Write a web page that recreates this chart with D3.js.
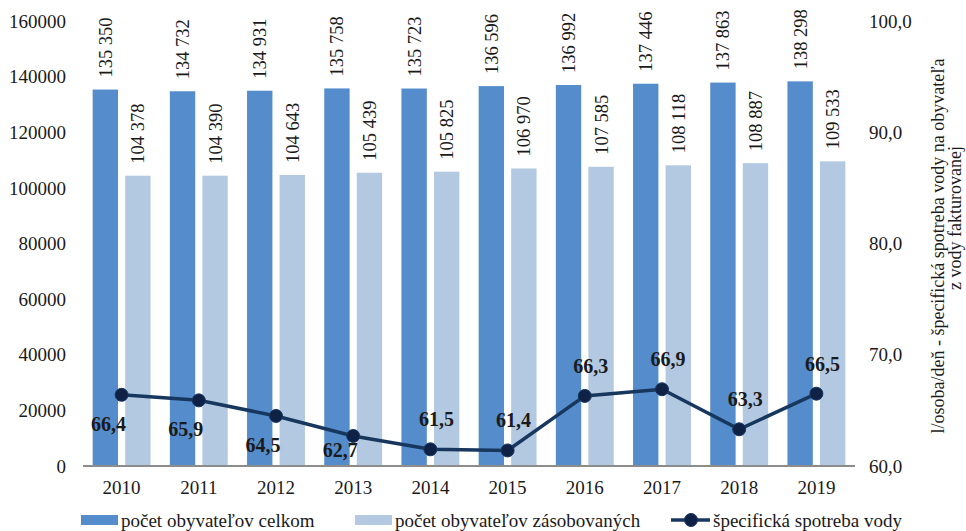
<!DOCTYPE html>
<html>
<head>
<meta charset="utf-8">
<script src="https://cdn.jsdelivr.net/npm/d3@7"></script>
<style>
  body { margin: 0; background: #fff; }
  text { font-family: "Liberation Serif", "Times New Roman", serif; fill: #1a1a1a; }
</style>
</head>
<body>
<script>
var years = ["2010", "2011", "2012", "2013", "2014", "2015", "2016", "2017", "2018", "2019"];
var celkom = [135350, 134732, 134931, 135758, 135723, 136596, 136992, 137446, 137863, 138298];
var zasobovanych = [104378, 104390, 104643, 105439, 105825, 106970, 107585, 108118, 108887, 109533];
var spotreba = [66.4, 65.9, 64.5, 62.7, 61.5, 61.4, 66.3, 66.9, 63.3, 66.5];
var leftTicks = [0, 20000, 40000, 60000, 80000, 100000, 120000, 140000, 160000];
var rightTicks = [60, 70, 80, 90, 100];
var seriesNames = ["počet obyvateľov celkom", "počet obyvateľov zásobovaných", "špecifická spotreba vody"];

var w = 966, h = 531;
var colDark = "#558ccb", colLight = "#b3c9e2", colLine = "#17375e", colDot = "#0f2144";
var fs = "19px";

var svg = d3.select("body").append("svg").attr("width", w).attr("height", h);

var x = d3.scaleBand().domain(years).range([83, 855]).paddingInner(0.25).paddingOuter(0.125);
var xs = d3.scaleBand().domain([0, 1]).range([0, x.bandwidth()]).paddingInner(0.22);
var yL = d3.scaleLinear().domain([0, 160000]).range([466, 21]);
var yR = d3.scaleLinear().domain([60, 100]).range([466, 21]);

var fmt = function(v) { return d3.format(",")(v).replace(/,/g, " "); };

// left axis labels
svg.append("g").selectAll("text").data(leftTicks).enter().append("text")
  .attr("x", 66).attr("y", function(d) { return yL(d); }).attr("dy", "0.35em")
  .attr("text-anchor", "end").style("font-size", fs)
  .text(function(d) { return d; });

// right axis labels
svg.append("g").selectAll("text").data(rightTicks).enter().append("text")
  .attr("x", 869).attr("y", function(d) { return yR(d); }).attr("dy", "0.35em")
  .style("font-size", fs)
  .text(function(d) { return d.toFixed(1).replace(".", ","); });

// bars
var series = [celkom, zasobovanych];
var colors = [colDark, colLight];
series.forEach(function(arr, s) {
  var g = svg.append("g");
  g.selectAll("rect").data(arr).enter().append("rect")
    .attr("x", function(d, i) { return x(years[i]) + xs(s); })
    .attr("width", xs.bandwidth())
    .attr("y", function(d) { return yL(d); })
    .attr("height", function(d) { return yL(0) - yL(d); })
    .style("fill", colors[s]);
  g.selectAll("text").data(arr).enter().append("text")
    .attr("transform", function(d, i) {
      var cx = x(years[i]) + xs(s) + xs.bandwidth() / 2;
      return "translate(" + cx + "," + (yL(d) - 12) + ") rotate(-90)";
    })
    .attr("dy", "0.35em").style("font-size", "18.5px")
    .text(function(d) { return fmt(d); });
});

// baseline
svg.append("line").attr("x1", 83).attr("x2", 855).attr("y1", 466).attr("y2", 466)
  .style("stroke", "#8c8c8c").style("stroke-width", 2);

// x labels
svg.append("g").selectAll("text").data(years).enter().append("text")
  .attr("x", function(d) { return x(d) + x.bandwidth() / 2; })
  .attr("y", 494).attr("text-anchor", "middle").style("font-size", fs)
  .text(function(d) { return d; });

// line
var cxOf = function(i) { return x(years[i]) + x.bandwidth() / 2; };
var line = d3.line().x(function(d, i) { return cxOf(i); }).y(function(d) { return yR(d); });
svg.append("path").datum(spotreba).attr("d", line)
  .style("fill", "none").style("stroke", colLine).style("stroke-width", 3.5);
svg.append("g").selectAll("circle").data(spotreba).enter().append("circle")
  .attr("cx", function(d, i) { return cxOf(i); })
  .attr("cy", function(d) { return yR(d); })
  .attr("r", 6.5).style("fill", colDot).style("stroke", colLine).style("stroke-width", 1);

// line labels: first four below the point, rest above
svg.append("g").selectAll("text").data(spotreba).enter().append("text")
  .attr("x", function(d, i) { return cxOf(i) + (i < 4 ? -13 : 6); })
  .attr("y", function(d, i) {
    var off = i < 4 ? (i === 3 ? 14 : 29) : -30;
    return yR(d) + off;
  })
  .attr("dy", "0.35em").attr("text-anchor", "middle")
  .style("font-size", "20px").style("font-weight", "bold")
  .text(function(d) { return d.toFixed(1).replace(".", ","); });

// right axis title
svg.append("text").attr("transform", "translate(938,246) rotate(-90)")
  .attr("text-anchor", "middle").attr("dy", "0.35em").style("font-size", "18px")
  .text("l/osoba/deň - špecifická spotreba vody na obyvateľa");
svg.append("text").attr("transform", "translate(955,218) rotate(-90)")
  .attr("text-anchor", "middle").attr("dy", "0.35em").style("font-size", "18px")
  .text("z vody fakturovanej");

// legend
var lg = svg.append("g");
lg.append("rect").attr("x", 81).attr("y", 515).attr("width", 37).attr("height", 10).style("fill", colDark);
lg.append("text").attr("x", 121).attr("y", 520).attr("dy", "0.35em").style("font-size", fs).text(seriesNames[0]);
lg.append("rect").attr("x", 355).attr("y", 515).attr("width", 37).attr("height", 10).style("fill", colLight);
lg.append("text").attr("x", 395).attr("y", 520).attr("dy", "0.35em").style("font-size", fs).text(seriesNames[1]);
lg.append("line").attr("x1", 671).attr("x2", 710).attr("y1", 520).attr("y2", 520)
  .style("stroke", colLine).style("stroke-width", 3.5);
lg.append("circle").attr("cx", 691).attr("cy", 520).attr("r", 6.5)
  .style("fill", colDot).style("stroke", colLine);
lg.append("text").attr("x", 713).attr("y", 520).attr("dy", "0.35em").style("font-size", fs).text(seriesNames[2]);
</script>
</body>
</html>
